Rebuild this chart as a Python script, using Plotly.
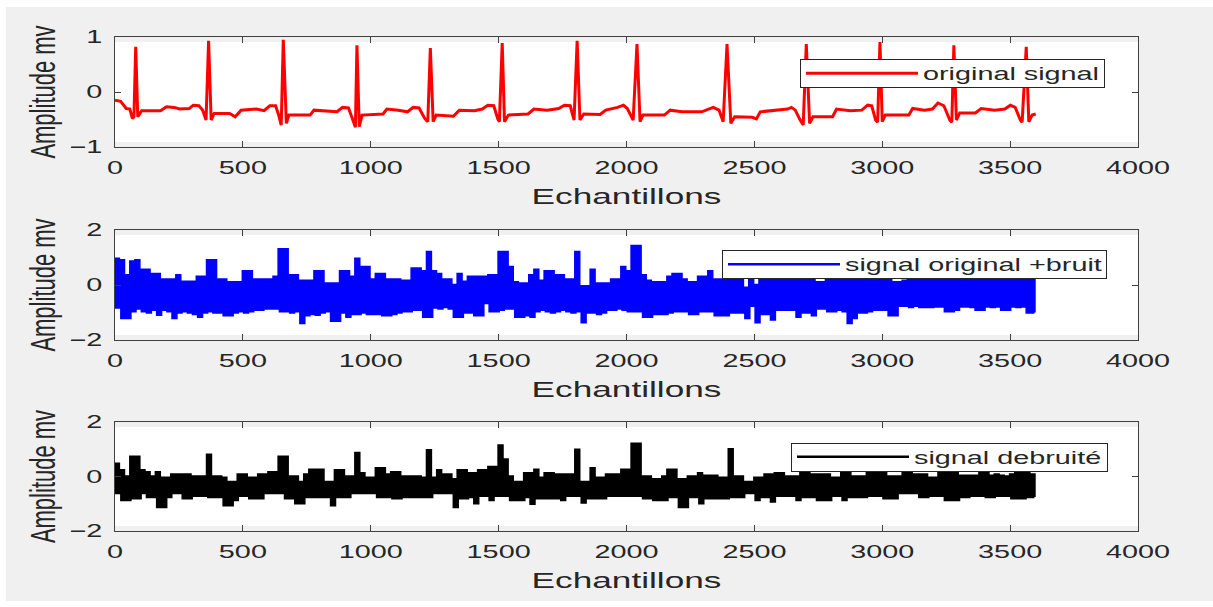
import plotly.graph_objects as go

# ---------------- data ----------------
# original ECG (key samples of the trace)
ecg_x = [0, 22, 44, 58, 68, 74, 81, 89, 104, 178, 201, 231, 253, 291, 306, 328, 343, 356, 366, 376,
         388, 448, 470, 493, 553, 583, 605, 628, 640, 650, 658, 670, 680, 763, 778, 823, 868, 890, 913, 928,
         940, 946, 955, 966, 1048, 1063, 1108, 1144, 1166, 1189, 1211, 1223, 1233, 1244, 1256, 1323, 1346, 1406, 1436, 1458,
         1481, 1496, 1503, 1514, 1523, 1538, 1615, 1638, 1690, 1735, 1757, 1780, 1795, 1807, 1818, 1833, 1897, 1919, 1965, 1988,
         2003, 2026, 2041, 2053, 2064, 2148, 2171, 2217, 2294, 2339, 2362, 2378, 2393, 2408, 2423, 2492, 2508, 2523, 2569, 2630,
         2645, 2660, 2679, 2691, 2703, 2716, 2729, 2806, 2821, 2875, 2920, 2943, 2959, 2974, 2982, 2991, 3000, 3012, 3104, 3119,
         3165, 3196, 3218, 3241, 3264, 3272, 3280, 3290, 3303, 3364, 3387, 3440, 3479, 3501, 3520, 3540, 3547, 3563, 3573, 3586,
         3600]
ecg_y = [-0.15, -0.17, -0.30, -0.31, -0.48, -0.45, 0.82, -0.45, -0.34, -0.34, -0.27, -0.28, -0.31, -0.30, -0.24, -0.25, -0.33, -0.51, 0.93, -0.51,
         -0.39, -0.39, -0.45, -0.33, -0.31, -0.34, -0.25, -0.25, -0.42, -0.60, 0.95, -0.57, -0.42, -0.42, -0.33, -0.34, -0.36, -0.28, -0.29, -0.48,
         -0.64, 0.85, -0.63, -0.42, -0.40, -0.31, -0.33, -0.36, -0.28, -0.29, -0.48, -0.54, 0.80, -0.54, -0.42, -0.44, -0.33, -0.34, -0.31, -0.24,
         -0.25, -0.48, -0.54, 0.89, -0.54, -0.42, -0.40, -0.31, -0.33, -0.30, -0.24, -0.25, -0.51, 0.93, -0.51, -0.40, -0.41, -0.33, -0.28, -0.24,
         -0.30, -0.51, 0.87, -0.54, -0.42, -0.42, -0.33, -0.36, -0.36, -0.28, -0.33, -0.54, 0.87, -0.57, -0.45, -0.46, -0.49, -0.36, -0.34, -0.31,
         -0.28, -0.33, -0.51, -0.60, 0.87, -0.57, -0.45, -0.45, -0.31, -0.34, -0.33, -0.24, -0.25, -0.51, -0.55, 0.91, -0.54, -0.42, -0.42, -0.30,
         -0.33, -0.31, -0.20, -0.25, -0.51, -0.55, 0.85, -0.51, -0.38, -0.38, -0.30, -0.33, -0.31, -0.24, -0.28, -0.51, -0.55, 0.82, -0.54, -0.42,
         -0.40]

# noisy signal: upper / lower excursion in each block of 20 samples
noisy_hi = [0.95, 0.9, 0.35, 0.85, 0.9, 0.55, 0.55, 0.4, 0.4, 0.2,
            0.2, 0.2, 0.35, 0.12, 0.12, 0.12, 0.3, 0.3, 0.9, 0.9,
            0.2, 0.2, 0.1, 0.1, 0.1, 0.5, 0.5, 0.2, 0.2, 0.2,
            0.2, 0.3, 1.3, 1.3, 0.35, 0.35, 0.15, 0.15, 0.15, 0.5,
            0.5, 0.05, 0.05, 0.05, 0.5, 0.5, 0.3, 0.95, 0.65, 0.65,
            0.2, 0.4, 0.4, 0.2, 0.2, 0.2, 0.15, 0.15, 0.6, 0.6,
            0.5, 1.2, 0.5, 0.4, 0.2, 0.2, 0.0, 0.4, 0.12, 0.3,
            0.3, 0.3, 0.3, 0.35, 0.35, 1.2, 1.2, 0.65, 0.1, 0.05,
            0.05, 0.35, 0.55, 0.15, 0.5, 0.5, 0.35, 0.35, 0.2, 0.2,
            1.2, -0.05, -0.05, 0.55, 0.05, 0.05, 0.05, 0.2, 0.2, 0.65,
            0.5, 1.42, 1.42, 0.35, 0.15, 0.1, 0.1, 0.1, 0.3, 0.4,
            0.4, 0.2, 0.1, 0.1, 0.3, 0.3, 0.5, 0.2, 0.2, 0.4,
            1.0, 0.35, 0.3, -0.1, 0.4, 0.0, 0.35, 0.3, 0.45, 0.3,
            0.35, 0.4, 0.3, 0.3, 0.5, 1.0, 0.4, 0.1, 0.1, 0.35,
            0.3, 0.4, 0.3, 0.45, 0.3, 0.3, 0.35, 0.4, 0.3, 0.5,
            1.0, 0.35, 0.1, 0.1, 0.15, 0.3, 0.4, 0.3, 0.35, 0.3,
            0.45, 0.3, 0.35, 0.5, 0.95, 0.4, 0.3, 0.35, 0.3, 0.4,
            0.3, 0.35, 0.3, 0.4, 0.3, 0.35, 0.3, 0.5, 0.9, 0.35]
noisy_lo = [-0.82, -1.2, -1.2, -0.95, -0.85, -0.95, -1.0, -0.9, -1.08, -0.9,
            -0.95, -1.2, -1.0, -0.95, -1.0, -1.05, -1.15, -1.0, -0.95, -1.0,
            -1.0, -1.1, -1.1, -1.0, -0.95, -1.0, -0.95, -0.9, -0.9, -0.85,
            -0.85, -0.85, -0.95, -0.95, -1.0, -0.95, -1.38, -1.1, -1.05, -1.08,
            -1.0, -0.95, -1.3, -1.3, -1.0, -1.15, -1.05, -1.05, -1.0, -1.05,
            -1.05, -1.05, -1.1, -1.1, -1.05, -1.0, -0.95, -0.95, -0.9, -0.9,
            -1.15, -1.15, -0.82, -0.85, -0.8, -0.85, -1.15, -1.15, -1.0, -1.0,
            -1.1, -1.1, -0.65, -0.95, -0.95, -0.9, -0.85, -0.85, -1.15, -1.15,
            -1.1, -1.15, -0.95, -0.9, -0.95, -1.0, -0.95, -0.9, -0.95, -1.0,
            -0.95, -1.35, -1.0, -1.0, -1.05, -1.0, -0.9, -0.9, -0.85, -0.9,
            -0.95, -0.95, -0.95, -1.15, -1.15, -1.05, -1.05, -1.05, -1.0, -0.95,
            -0.95, -0.95, -1.05, -1.05, -0.95, -0.95, -0.95, -1.1, -1.1, -1.1,
            -1.0, -1.0, -1.0, -1.2, -0.75, -1.35, -1.05, -1.05, -1.25, -0.9,
            -0.9, -0.9, -0.9, -1.15, -1.0, -1.0, -1.1, -0.85, -0.85, -0.95,
            -0.95, -0.9, -0.95, -1.38, -1.2, -1.0, -1.0, -0.95, -0.9, -0.9,
            -0.9, -1.1, -1.1, -0.75, -0.75, -0.8, -0.75, -0.8, -0.8, -0.8,
            -0.78, -0.78, -0.95, -0.95, -0.9, -0.78, -0.78, -0.8, -0.9, -0.9,
            -0.78, -0.8, -0.78, -0.9, -0.9, -0.78, -0.8, -0.78, -1.0, -1.0]

# denoised signal: upper / lower excursion in each block of 20 samples
clean_hi = [0.47, 0.23, 0.0, 0.72, 0.72, 0.23, 0.15, 0.0, 0.15, -0.05,
            -0.05, 0.07, 0.07, 0.07, 0.07, 0.0, 0.0, 0.0, 0.8, 0.0,
            0.0, -0.05, -0.2, -0.2, 0.07, 0.07, -0.05, -0.05, 0.07, 0.07,
            0.15, 0.15, 0.72, 0.72, 0.0, 0.0, -0.2, 0.07, 0.25, 0.25,
            0.25, -0.2, -0.2, 0.23, 0.23, 0.0, 0.0, 0.86, 0.12, -0.05,
            -0.05, 0.3, 0.3, 0.07, 0.15, 0.15, 0.0, 0.0, 0.0, 0.0,
            -0.05, 0.96, -0.05, 0.23, 0.07, 0.07, -0.1, 0.23, 0.23, 0.12,
            0.12, 0.23, 0.23, 0.35, 0.35, 1.14, 0.62, 0.0, -0.2, -0.2,
            0.12, 0.12, 0.25, -0.05, 0.12, 0.12, 0.07, 0.07, 0.07, 0.07,
            0.98, -0.2, -0.2, 0.3, -0.05, -0.05, 0.07, 0.07, 0.07, 0.25,
            0.25, 1.2, 1.2, 0.0, 0.0, -0.1, -0.1, 0.0, 0.25, 0.25,
            -0.1, -0.1, 0.0, 0.0, 0.12, 0.03, 0.03, 0.03, -0.05, -0.05,
            1.0, 0.0, 0.0, -0.2, -0.2, -0.05, -0.05, 0.07, 0.07, 0.12,
            0.12, 0.0, 0.0, 0.0, 0.12, 0.15, 0.07, 0.07, 0.07, 0.07,
            -0.05, -0.05, 0.12, 0.12, 0.0, 0.0, 0.0, 0.12, 0.12, 0.12,
            0.15, 0.0, 0.0, 0.0, 0.12, 0.12, 0.07, 0.07, 0.07, -0.05,
            -0.05, 0.12, 0.12, 0.12, 0.15, 0.03, 0.03, 0.03, 0.03, 0.15,
            0.15, 0.03, 0.07, 0.03, 0.0, 0.07, 0.15, 0.15, 0.15, 0.07]
clean_lo = [-0.6, -0.86, -0.86, -0.8, -0.8, -0.6, -0.75, -0.75, -1.12, -1.12,
            -0.75, -0.6, -0.6, -0.8, -0.8, -0.7, -0.7, -0.7, -0.75, -0.75,
            -0.75, -1.05, -1.05, -0.86, -0.7, -0.7, -0.8, -0.8, -0.8, -0.6,
            -0.6, -0.6, -0.6, -0.8, -0.8, -0.98, -0.98, -0.75, -0.75, -0.75,
            -0.75, -0.75, -1.05, -0.75, -0.75, -0.75, -0.6, -0.6, -0.6, -0.6,
            -0.6, -0.75, -0.75, -0.75, -0.8, -0.8, -0.75, -0.75, -0.75, -0.75,
            -0.75, -0.75, -0.6, -0.6, -0.6, -0.6, -1.12, -0.8, -0.8, -0.75,
            -0.98, -0.7, -0.7, -0.86, -0.7, -0.7, -0.7, -0.86, -0.86, -0.86,
            -0.75, -1.0, -0.8, -0.8, -0.8, -0.8, -0.8, -0.86, -0.7, -0.7,
            -0.7, -0.95, -0.8, -0.8, -0.8, -0.8, -0.7, -0.7, -0.7, -0.7,
            -0.7, -0.7, -0.7, -0.8, -0.8, -0.86, -0.86, -0.86, -0.75, -0.75,
            -1.12, -1.12, -0.75, -0.75, -0.98, -0.8, -0.8, -0.8, -0.8, -0.8,
            -0.75, -0.75, -0.75, -0.6, -0.6, -0.86, -0.75, -0.75, -0.92, -0.7,
            -0.7, -0.7, -0.7, -0.86, -0.75, -0.75, -0.75, -0.86, -0.86, -0.86,
            -0.7, -0.7, -0.86, -0.75, -0.75, -0.75, -0.75, -0.7, -0.7, -0.7,
            -0.8, -0.8, -0.8, -0.6, -0.6, -0.6, -0.6, -0.75, -0.75, -0.7,
            -0.7, -0.7, -0.86, -0.86, -0.86, -0.75, -0.75, -0.7, -0.7, -0.7,
            -0.75, -0.75, -0.7, -0.7, -0.7, -0.8, -0.8, -0.8, -0.75, -0.75]

BLOCK = 20
x_ticks = [0, 500, 1000, 1500, 2000, 2500, 3000, 3500, 4000]
y_ticks_top = [-1, 0, 1]
y_ticks_low = [-2, 0, 2]
x_title = "Echantillons"
y_title = "Amplitude mv"
names = ["original signal", "signal original +bruit", "signal debruité"]


def blocks(hi, lo):
    """Each block of samples swings between its upper and lower excursion."""
    xs, ys = [], []
    for k, (h, l) in enumerate(zip(hi, lo)):
        s = k * BLOCK
        xs += [s, s + BLOCK // 4, s + BLOCK // 2, s + 3 * BLOCK // 4]
        ys += [h, l, h, l]
    return xs, ys


nx, ny = blocks(noisy_hi, noisy_lo)
cx, cy = blocks(clean_hi, clean_lo)

W, H = 1213, 607
FONT = "Liberation Sans, Arial, sans-serif"
TXT = "#262626"

fig = go.Figure()
fig.add_trace(go.Scatter(x=ecg_x, y=ecg_y, mode="lines", name=names[0],
                         line=dict(color="#ff0000", width=3), xaxis="x", yaxis="y", legend="legend"))
fig.add_trace(go.Scatter(x=nx, y=ny, mode="lines", name=names[1],
                         line=dict(color="#0000ff", width=2.6, shape="hv", simplify=False),
                         xaxis="x2", yaxis="y2", legend="legend2"))
fig.add_trace(go.Scatter(x=cx, y=cy, mode="lines", name=names[2],
                         line=dict(color="#000000", width=2.6, shape="hv", simplify=False),
                         xaxis="x3", yaxis="y3", legend="legend3"))

xdom = [115 / W, 1138 / W]
ydoms = [[1 - 147 / H, 1 - 37 / H], [1 - 340 / H, 1 - 230 / H], [1 - 531 / H, 1 - 422 / H]]

axis_common = dict(showgrid=False, zeroline=False, showline=True, linecolor="#404040", linewidth=1,
                   mirror="ticks", ticks="inside", ticklen=6, tickcolor="#404040",
                   tickfont=dict(family=FONT, size=18, color=TXT), automargin=False)

layout = dict(width=W, height=H, margin=dict(l=0, r=0, t=0, b=0, pad=0),
              paper_bgcolor="#f0f0f0", plot_bgcolor="#ffffff", showlegend=True)

for i in range(3):
    sfx = "" if i == 0 else str(i + 1)
    layout["xaxis" + sfx] = dict(axis_common, domain=xdom, range=[0, 4000], tickvals=x_ticks,
                                 anchor="y" + sfx, ticklabelstandoff=4,
                                 title=dict(text=x_title, font=dict(family=FONT, size=22, color=TXT), standoff=12))
    yt = y_ticks_top if i == 0 else y_ticks_low
    layout["yaxis" + sfx] = dict(axis_common, domain=ydoms[i], range=[yt[0], yt[-1]], tickvals=yt,
                                 anchor="x" + sfx, ticklabelstandoff=8,
                                 title=dict(text=y_title, font=dict(family=FONT, size=22, color=TXT), standoff=24))

leg_common = dict(bgcolor="#ffffff", bordercolor="#262626", borderwidth=1, xanchor="left", yanchor="middle",
                  orientation="h", entrywidthmode="pixels",
                  font=dict(family=FONT, size=18, color=TXT), itemwidth=112)
layout["legend"] = dict(leg_common, x=800 / W, y=1 - 73.5 / H, entrywidth=176)
layout["legend2"] = dict(leg_common, x=722 / W, y=1 - 264.5 / H, entrywidth=256)
layout["legend3"] = dict(leg_common, x=791 / W, y=1 - 457 / H, entrywidth=188)

# thin white frame around the grey figure area
layout["shapes"] = [
    dict(type="rect", xref="paper", yref="paper", x0=0, x1=6 / W, y0=0, y1=1,
         fillcolor="#ffffff", line=dict(width=0), layer="above"),
    dict(type="rect", xref="paper", yref="paper", x0=0, x1=1, y0=1 - 7 / H, y1=1,
         fillcolor="#ffffff", line=dict(width=0), layer="above"),
    dict(type="rect", xref="paper", yref="paper", x0=0, x1=1, y0=0, y1=6 / H,
         fillcolor="#ffffff", line=dict(width=0), layer="above"),
]

fig.update_layout(**layout)

# the reference shows horizontally widened lettering; reproduce the widening on the real text
post = """
var gd = document.getElementById('{plot_id}');
function stretchTexts(){
  var S = 1.6;
  gd.querySelectorAll('svg.main-svg text').forEach(function(t){
    try {
      if(t.getAttribute('data-st')) return;
      var bb = t.getBBox();
      if(!bb || !bb.width) return;
      var tr = t.getAttribute('transform') || '';
      var anc = t.getAttribute('text-anchor') || 'start';
      var add;
      if(/rotate/.test(tr)){
        var cy = bb.y + bb.height/2;
        add = ' translate(0,' + cy + ') scale(1,' + S + ') translate(0,' + (-cy) + ')';
      } else {
        var cx = anc === 'middle' ? bb.x + bb.width/2 : (anc === 'end' ? bb.x + bb.width : bb.x);
        add = ' translate(' + cx + ',0) scale(' + S + ',1) translate(' + (-cx) + ',0)';
      }
      t.setAttribute('transform', tr + add);
      t.setAttribute('data-st', '1');
    } catch(e) {}
  });
  gd.querySelectorAll('rect.bg').forEach(function(bg){
    try {
      var h = parseFloat(bg.getAttribute('height'));
      if(bg.getAttribute('data-fh') === String(h)) return;
      var y0 = parseFloat(bg.getAttribute('y') || 0);
      bg.setAttribute('y', y0 + 5);
      bg.setAttribute('height', h - 10);
      bg.setAttribute('data-fh', String(h - 10));
    } catch(e) {}
  });
}
stretchTexts();
gd.on('plotly_afterplot', stretchTexts);
setTimeout(stretchTexts, 30);
setTimeout(stretchTexts, 200);
"""

fig.write_html("out.html", config={"displayModeBar": False}, post_script=post)
